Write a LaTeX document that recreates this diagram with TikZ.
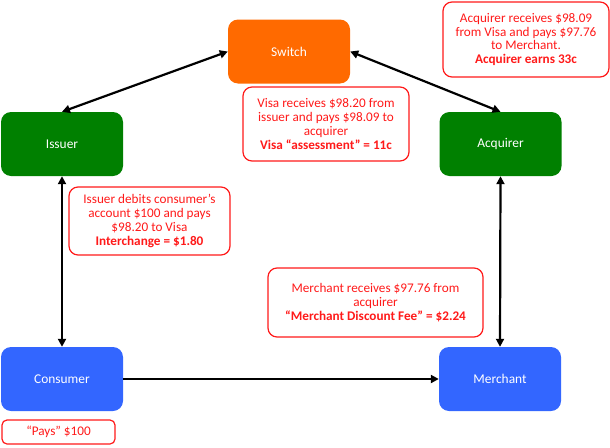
\documentclass[tikz,border=0pt]{standalone}
\usepackage{fontspec}
\setmainfont{Carlito}
\usetikzlibrary{arrows.meta}
\definecolor{switchorange}{HTML}{FF6A00}
\definecolor{bankgreen}{HTML}{008000}
\definecolor{partyblue}{HTML}{3366FF}
\definecolor{notered}{HTML}{FF1A1A}
\tikzset{
	party/.style={rounded corners=10pt, minimum width=122pt, minimum height=64pt, inner sep=0pt, text=white, font=\fontsize{13.4}{14}\selectfont},
	note/.style={draw=notered, line width=1.2pt, fill=white, rounded corners=9pt, text=notered, align=center, inner sep=0pt, font=\fontsize{13.2}{13.8}\selectfont},
	flow/.style={line width=2.2pt, -{Triangle[length=8pt,width=8pt]}},
	twoway/.style={line width=2.2pt, {Triangle[length=8pt,width=8pt]}-{Triangle[length=8pt,width=8pt]}}
}

\begin{document}
\begin{tikzpicture}[x=1pt, y=-1pt]
			%%%%% START %%%%%
			\useasboundingbox (0, 0) rectangle (610, 447);
			
			\node[party, fill=switchorange] (switch) at (289, 51.5) {Switch};
			\node[party, fill=bankgreen] (issuer) at (62, 144) {Issuer};
			\node[party, fill=bankgreen] (acquirer) at (500.5, 144) {Acquirer};
			\node[party, fill=partyblue] (consumer) at (62, 379) {Consumer};
			\node[party, fill=partyblue] (merchant) at (500, 379) {Merchant};
			
			\draw[twoway] (switch.west) -- (issuer.north);
			\draw[twoway] (switch.east) -- (acquirer.north);
			\draw[twoway] (issuer.south) -- (consumer.north);
			\draw[twoway] (acquirer.south) -- (merchant.north);
			\draw[flow] (consumer.east) -- (merchant.west);
			
			\node[note, minimum width=166pt, minimum height=74pt] (visanote) at (326, 124)
				{Visa receives \$98.20 from\\issuer and pays \$98.09 to\\acquirer\\\textbf{Visa “assessment” = 11c}};
			\node[note, minimum width=166pt, minimum height=75pt] (acquirernote) at (526, 39.5)
				{Acquirer receives \$98.09\\from Visa and pays \$97.76\\to Merchant.\\\textbf{Acquirer earns 33c}};
			\node[note, minimum width=161pt, minimum height=68pt] (issuernote) at (149.5, 221)
				{Issuer debits consumer’s\\account \$100 and pays\\\$98.20 to Visa\\\textbf{Interchange = \$1.80}};
			\node[note, minimum width=215pt, minimum height=69pt] (merchantnote) at (375.5, 302.5)
				{Merchant receives \$97.76 from\\acquirer\\\textbf{“Merchant Discount Fee” = \$2.24}};
			\node[note, minimum width=113pt, minimum height=24pt, rounded corners=5pt] (paysnote) at (58.5, 432)
				{“Pays” \$100};
			
			%%%%% END %%%%%
\end{tikzpicture}
\end{document}
